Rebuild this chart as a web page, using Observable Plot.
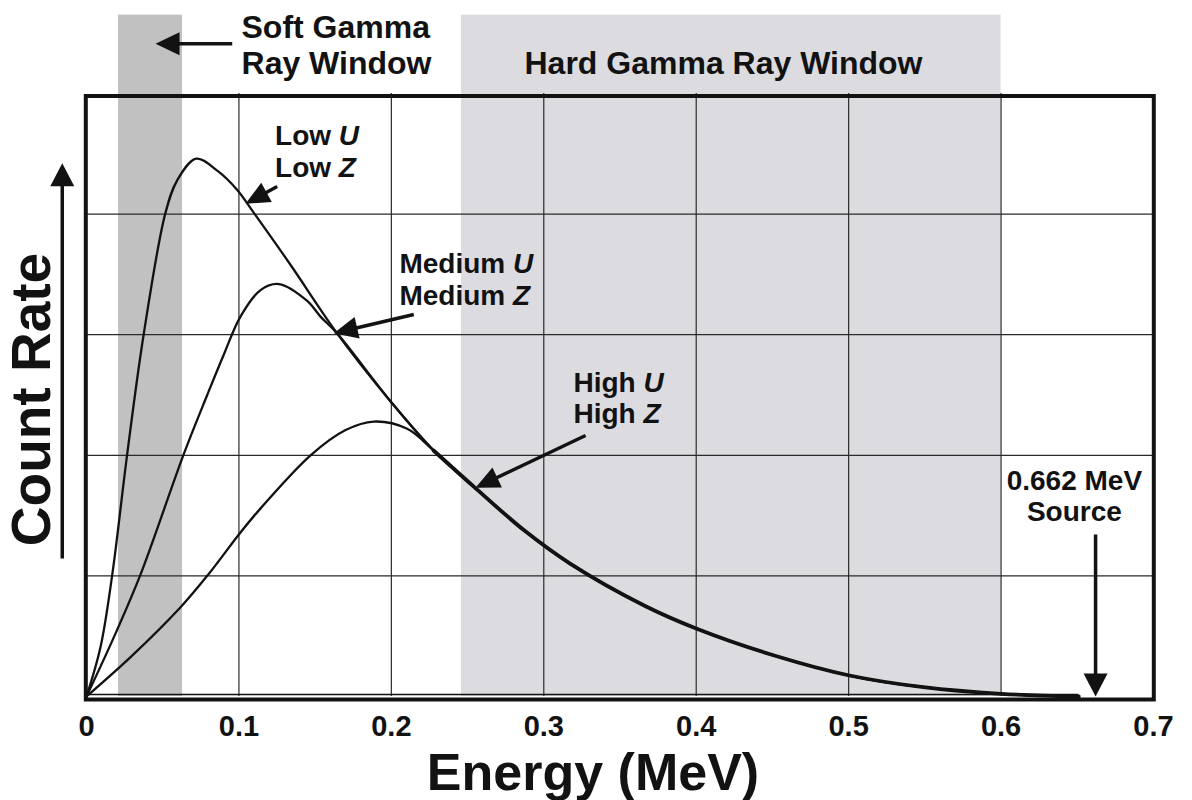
<!DOCTYPE html>
<html>
<head>
<meta charset="utf-8">
<script src="https://cdn.jsdelivr.net/npm/d3@7"></script>
<script src="https://cdn.jsdelivr.net/npm/@observablehq/plot@0.6"></script>
<style>
  html, body { margin: 0; padding: 0; background: #ffffff; }
  #chart svg { display: block; }
</style>
</head>
<body>
<div id="chart"></div>
<script>
// ---------- data ----------
const xTicks = [0, 0.1, 0.2, 0.3, 0.4, 0.5, 0.6, 0.7];
const xTickLabels = ["0", "0.1", "0.2", "0.3", "0.4", "0.5", "0.6", "0.7"];
const xGrid = [0.1, 0.2, 0.3, 0.4, 0.5, 0.6];
const yGrid = [1, 2, 3, 4];

const softWindow = [0.021, 0.063];   // MeV
const hardWindow = [0.246, 0.600];   // MeV
const sourceEnergy = 0.662;          // MeV

// count-rate curves [energy (MeV), count rate (arbitrary)]
const lowU = [
  [0, 0], [0.0092, 0.41], [0.0169, 1.01], [0.0267, 2.01], [0.0376, 3.01],
  [0.0518, 4.01], [0.0595, 4.28], [0.072, 4.46], [0.0858, 4.36],
  [0.0989, 4.20], [0.1098, 4.01], [0.1338, 3.58]
];
const mediumU = [
  [0, 0], [0.0179, 0.49], [0.0354, 1.01], [0.0638, 2.01], [0.0792, 2.50],
  [0.0899, 2.83], [0.101, 3.15], [0.1142, 3.37], [0.1262, 3.42],
  [0.1448, 3.28], [0.1535, 3.15]
];
const highU = [
  [0, 0], [0.0289, 0.326], [0.0617, 0.74], [0.0798, 1.01], [0.101, 1.36],
  [0.1142, 1.56], [0.147, 2.00], [0.17, 2.21], [0.1885, 2.28], [0.2104, 2.22]
];
// common tail shared by all three curves
const envelope = [
  [0.1645, 3.01], [0.2006, 2.43], [0.2277, 2.04], [0.2541, 1.74],
  [0.2869, 1.38], [0.3175, 1.10], [0.3658, 0.755], [0.4008, 0.56],
  [0.4512, 0.34], [0.5006, 0.174], [0.5491, 0.077], [0.600, 0.022],
  [0.651, 0.0]
];

// ---------- layout ----------
const W = 1192, H = 800;
const ML = 86, MR = 39, MT = 93, MB = 104;
const XD = [0, 0.7], YD = [0, 5];
const kx = (W - ML - MR) / (XD[1] - XD[0]);
const ky = (H - MT - MB) / (YD[1] - YD[0]);
const FONT = "'Liberation Sans', Arial, Helvetica, sans-serif";
const INK = "#121212";

function withTail(points) {
  const last = points[points.length - 1][0];
  return points.concat(envelope.filter(p => p[0] > last));
}
const tail = envelope.filter(p => p[0] >= 0.2277);

// annotations (positions in data units)
const curveLabels = [
  {text: "Low U\nLow Z", x: 0.1237, y: 4.308},
  {text: "Medium U\nMedium Z", x: 0.2053, y: 3.250},
  {text: "High U\nHigh Z", x: 0.3195, y: 2.264}
];
const sourceLabel = {text: "0.662 MeV\nSource", x: 0.6481, y: 1.455};
const softLabel = {text: "Soft Gamma\nRay Window", x: 0.1017, y: 5.163};
const hardLabel = {text: "Hard Gamma Ray Window", x: 0.4179, y: 5.158};

const arrows = [
  {x1: 0.0956, y1: 5.412, x2: 0.0453, y2: 5.412, L: 24, w: 11.5},
  {x1: 0.1251, y1: 4.229, x2: 0.1043, y2: 4.085, L: 24, w: 11},
  {x1: 0.2147, y1: 3.167, x2: 0.1622, y2: 3.012, L: 24, w: 11},
  {x1: 0.3274, y1: 2.164, x2: 0.2552, y2: 1.731, L: 24, w: 11},
  {x1: sourceEnergy, y1: 1.343, x2: sourceEnergy, y2: 0, L: 23, w: 12},
  {x1: -0.0159, y1: 1.144, x2: -0.0159, y2: 4.422, L: 23, w: 12}
].map(a => {
  const dxp = (a.x2 - a.x1) * kx, dyp = -(a.y2 - a.y1) * ky;
  const len = Math.hypot(dxp, dyp);
  const ux = dxp / len, uy = dyp / len;
  const back = a.L * 0.6;
  return {
    ...a,
    sx: a.x2 - ux * back / kx,
    sy: a.y2 + uy * back / ky,
    angle: Math.atan2(ux, -uy)
  };
});

function headSymbol(angle, L, w) {
  const c = Math.cos(angle), s = Math.sin(angle);
  const rot = (x, y) => [x * c - y * s, x * s + y * c];
  return {
    draw(ctx) {
      const p0 = rot(0, 0), p1 = rot(w, L), p2 = rot(-w, L);
      ctx.moveTo(p0[0], p0[1]);
      ctx.lineTo(p1[0], p1[1]);
      ctx.lineTo(p2[0], p2[1]);
      ctx.closePath();
    }
  };
}

const px = d => d[0], py = d => d[1];
const bold = {fontWeight: "bold", fill: INK};

const chart = Plot.plot({
  width: W,
  height: H,
  marginLeft: ML,
  marginRight: MR,
  marginTop: MT,
  marginBottom: MB,
  style: {fontFamily: FONT, background: "#ffffff", color: INK},
  x: {domain: XD, axis: null},
  y: {domain: YD, axis: null},
  marks: [
    // energy windows
    Plot.rect([softWindow], {x1: d => d[0], x2: d => d[1], y1: 0, y2: 5.65, fill: "#c1c1c1"}),
    Plot.rect([hardWindow], {x1: d => d[0], x2: d => d[1], y1: 0, y2: 5.65, fill: "#dcdce0"}),
    // grid
    Plot.ruleX(xGrid, {y1: 0, y2: 5, stroke: "#2a2a2a", strokeWidth: 1.2}),
    Plot.ruleY(yGrid, {x1: 0, x2: 0.7, stroke: "#2a2a2a", strokeWidth: 1.2}),
    // baseline of the curves
    Plot.ruleY([0], {x1: 0, x2: envelope[envelope.length - 1][0], dy: -2, stroke: INK, strokeWidth: 1.5}),
    // curves
    Plot.line(withTail(lowU), {x: px, y: py, curve: "catmull-rom", stroke: INK, strokeWidth: 2.3}),
    Plot.line(withTail(mediumU), {x: px, y: py, curve: "catmull-rom", stroke: INK, strokeWidth: 2.3}),
    Plot.line(withTail(highU), {x: px, y: py, curve: "catmull-rom", stroke: INK, strokeWidth: 2.3}),
    Plot.line(tail, {x: px, y: py, curve: "catmull-rom", stroke: INK, strokeWidth: 3.8}),
    // frame
    Plot.frame({stroke: INK, strokeWidth: 4, insetTop: 2.5, insetBottom: -3, insetLeft: -0.7, insetRight: -0.3}),
    // x tick labels
    Plot.text(xTicks, {x: d => d, text: (d, i) => xTickLabels[i], frameAnchor: "bottom", dy: 39,
      lineAnchor: "bottom", textAnchor: "middle", fontSize: 29, ...bold}),
    // axis titles
    Plot.text(["Energy (MeV)"], {frameAnchor: "bottom", dy: 93, dx: -27, lineAnchor: "bottom",
      textAnchor: "middle", fontSize: 52, ...bold}),
    Plot.text(["Count Rate"], {frameAnchor: "left", dx: -37, dy: 4.5, rotate: -90, lineAnchor: "bottom",
      textAnchor: "middle", fontSize: 55, ...bold}),
    // window labels
    Plot.text([softLabel], {x: "x", y: "y", text: "text", textAnchor: "start", lineAnchor: "bottom",
      lineHeight: 1.125, fontSize: 32, ...bold}),
    Plot.text([hardLabel], {x: "x", y: "y", text: "text", textAnchor: "middle", lineAnchor: "bottom",
      fontSize: 32, ...bold}),
    // curve labels
    Plot.text(curveLabels, {x: "x", y: "y", text: "text", textAnchor: "start",
      lineAnchor: "bottom", lineHeight: 1.14, fontSize: 28, ...bold}),
    Plot.text([sourceLabel], {x: "x", y: "y", text: "text", textAnchor: "middle",
      lineAnchor: "bottom", lineHeight: 1.12, fontSize: 28, ...bold}),
    // arrows: shafts
    Plot.link(arrows, {x1: "x1", y1: "y1", x2: "sx", y2: "sy", stroke: INK, strokeWidth: 3.5}),
    // arrows: heads
    ...arrows.map(a => Plot.dot([a], {x: "x2", y: "y2", r: 5, symbol: headSymbol(a.angle, a.L, a.w),
      fill: INK, stroke: "none"}))
  ]
});

// italic U / Z
chart.querySelectorAll("tspan, text").forEach(t => {
  if (t.children.length) return;
  const s = t.textContent;
  if (/^(Low|Medium|High) [UZ]$/.test(s)) {
    const letter = s.slice(-1);
    t.textContent = s.slice(0, -1);
    const it = document.createElementNS("http://www.w3.org/2000/svg", "tspan");
    it.setAttribute("font-style", "italic");
    it.textContent = letter;
    t.appendChild(it);
  }
});

document.getElementById("chart").appendChild(chart);
</script>
</body>
</html>
